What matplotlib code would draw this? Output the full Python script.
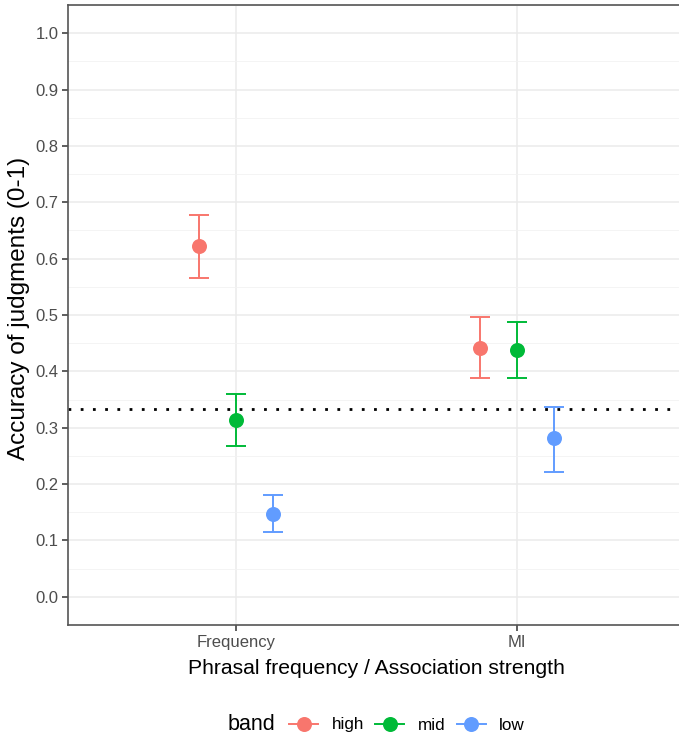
import matplotlib
matplotlib.use("Agg")
import matplotlib.pyplot as plt
from matplotlib.lines import Line2D
import numpy as np

plt.rcParams['font.family'] = ['Liberation Sans', 'DejaVu Sans']

categories = ["Frequency", "MI"]
bands = ["high", "mid", "low"]
colors = {"high": "#F8766D", "mid": "#00BA38", "low": "#619CFF"}
means = {"high": [0.622, 0.441], "mid": [0.313, 0.438], "low": [0.147, 0.282]}
upper = {"high": [0.678, 0.497], "mid": [0.360, 0.488], "low": [0.181, 0.337]}
lower = {"high": [0.566, 0.388], "mid": [0.267, 0.388], "low": [0.115, 0.222]}
chance = 1 / 3
yticks = [0.0, 0.1, 0.2, 0.3, 0.4, 0.5, 0.6, 0.7, 0.8, 0.9, 1.0]

W, H = 679, 736
fig = plt.figure(figsize=(W / 100, H / 100), dpi=100)
L, R, T, B = 68, 685, 5, 625
ax = fig.add_axes([L / W, 1 - B / H, (R - L) / W, (B - T) / H])

x = np.arange(1, len(categories) + 1)
dodge = 0.132
for i, b in enumerate(bands):
    xs = x + (i - 1) * dodge
    m = np.array(means[b])
    yerr = [m - np.array(lower[b]), np.array(upper[b]) - m]
    ax.errorbar(xs, m, yerr=yerr, fmt='none', ecolor=colors[b], elinewidth=1.4,
                capsize=6.9, capthick=1.4, zorder=3)
    ax.plot(xs, m, 'o', color=colors[b], markersize=10.8, zorder=4, markeredgewidth=0)

ax.axhline(chance, color='black', linestyle=(0, (1, 3.4)), linewidth=2.0, zorder=2)

ax.set_xlim(0.4, 2.6)
ax.set_ylim(-0.05, 1.05)
ax.set_xticks(x)
ax.set_xticklabels(categories)
ax.set_yticks(yticks)
ax.set_yticklabels([f"{v:.1f}" for v in yticks])
ax.set_yticks(np.arange(-0.05, 1.06, 0.1), minor=True)
ax.grid(True, which='major', color='#EBEBEB', linewidth=1.1, zorder=0)
ax.grid(True, which='minor', axis='y', color='#F2F2F2', linewidth=0.6, zorder=0)
ax.set_axisbelow(True)
for s in ax.spines.values():
    s.set_color('#555555')
    s.set_linewidth(1.2)
ax.tick_params(axis='both', which='major', length=4, width=1.1, color='#333333',
               labelcolor='#4D4D4D', labelsize=12, pad=3)
ax.tick_params(which='minor', length=0)

ax.set_xlabel("Phrasal frequency / Association strength", fontsize=15.2, labelpad=7)
ax.set_ylabel("Accuracy of judgments (0-1)", fontsize=17.5)
ax.yaxis.set_label_coords(-0.062, 0.51)

fig.text(228 / W, 1 - 725 / H, "band", fontsize=15.5, va='center', ha='left')
handles = [Line2D([0], [0], color=colors[b], marker='o', markersize=10.8, linewidth=1.4,
                  markeredgewidth=0) for b in bands]
fig.legend(handles, bands, loc='center left', bbox_to_anchor=(289 / W, 1 - 725 / H),
           ncol=3, frameon=False, fontsize=12.3, handlelength=1.7, handletextpad=0.8,
           columnspacing=0.65, borderaxespad=0, borderpad=0)

fig.savefig("out.png", dpi=100)
